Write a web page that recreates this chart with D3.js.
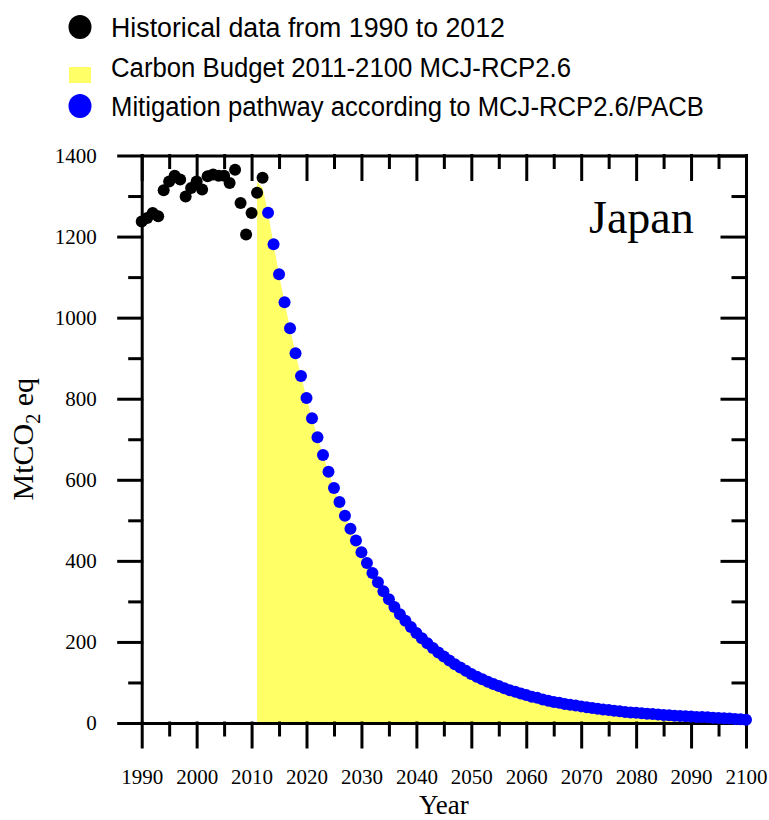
<!DOCTYPE html>
<html>
<head>
<meta charset="utf-8">
<script src="https://cdn.jsdelivr.net/npm/d3@7"></script>
<style>
body { margin: 0; background: #fff; }
</style>
</head>
<body>
<svg id="chart" width="769" height="820"></svg>
<script>
// historical emissions, MtCO2 eq
const histYears = d3.range(1990, 2013)
const histValues = [1237, 1246, 1258, 1250, 1314, 1336, 1350, 1341, 1299, 1320, 1336, 1316,
	1349, 1353, 1350, 1350, 1332, 1365, 1283, 1205, 1258, 1308, 1345]

// mitigation pathway 2013-2100
const pathYears = d3.range(2013, 2101)
const pathValues = [1259, 1181, 1107, 1038, 974, 912, 856, 802, 752, 705,
	661, 620, 580, 545, 511, 479, 450, 421, 395, 370,
	347, 325, 305, 286, 268, 252, 237, 222, 209, 197,
	185, 174, 164, 154, 145, 137, 129, 121, 114, 108,
	102, 96, 91, 86, 81, 77, 73, 69, 65, 62,
	58, 55, 52, 50, 47, 45, 43, 41, 39, 37,
	35, 33, 32, 30, 29, 27, 26, 25, 24, 23,
	22, 21, 20, 19, 18, 17, 16.5, 16, 15, 14.5,
	14, 13, 12.5, 12, 11, 10, 9, 8]

// carbon budget area 2011-2100 (first two years, then follows the pathway)
const budgetYears = [2011, 2012].concat(pathYears)
const budgetValues = [1335, 1320].concat(pathValues)

const legendLabels = [
	'Historical data from 1990 to 2012',
	'Carbon Budget 2011-2100 MCJ-RCP2.6',
	'Mitigation pathway according to MCJ-RCP2.6/PACB'
]

const xMajor = d3.range(1990, 2101, 10)
const xMinor = d3.range(1995, 2100, 10)
const yMajor = d3.range(0, 1401, 200)
const yMinor = d3.range(100, 1400, 200)

const svg = d3.select('#chart')

let x = d3.scaleLinear().domain([1990, 2100]).range([141.7, 746])
let y = d3.scaleLinear().domain([0, 1400]).range([723, 155.5])

// budget area
let area = d3.area()
	.x(d => x(d[0]))
	.y0(y(0))
	.y1(d => y(d[1]))
svg.append('path')
	.datum(budgetYears.map((yr, i) => [yr, budgetValues[i]]))
	.attr('d', area)
	.attr('fill', '#ffff66')

// axes
function styleAxis(g) {
	g.selectAll('path, line')
		.attr('stroke', '#000')
		.attr('stroke-width', 3)
		.attr('stroke-linecap', 'square')
	g.selectAll('text')
		.attr('fill', '#000')
		.style('font-family', '"Liberation Serif", "Times New Roman", serif')
		.style('font-size', '21px')
}

let axBottom = svg.append('g').attr('transform', `translate(0,${y(0)})`)
axBottom.call(d3.axisBottom(x).tickValues(xMajor).tickSize(24).tickSizeOuter(0)
	.tickPadding(22).tickFormat(d3.format('d')))
axBottom.append('g').call(d3.axisBottom(x).tickValues(xMinor).tickSize(12).tickFormat(''))
	.select('.domain').remove()
axBottom.call(styleAxis)

let axTop = svg.append('g').attr('transform', `translate(0,${y(1400)})`)
axTop.call(d3.axisTop(x).tickValues(xMajor).tickSize(-24).tickSizeOuter(0).tickFormat(''))
axTop.append('g').call(d3.axisTop(x).tickValues(xMinor).tickSize(-12).tickFormat(''))
	.select('.domain').remove()
axTop.call(styleAxis)

let axLeft = svg.append('g').attr('transform', `translate(${x(1990)},0)`)
axLeft.call(d3.axisLeft(y).tickValues(yMajor).tickSize(23).tickSizeOuter(0)
	.tickPadding(22).tickFormat(d3.format('d')))
axLeft.append('g').call(d3.axisLeft(y).tickValues(yMinor).tickSize(12).tickFormat(''))
	.select('.domain').remove()
axLeft.call(styleAxis)

let axRight = svg.append('g').attr('transform', `translate(${x(2100)},0)`)
axRight.call(d3.axisRight(y).tickValues(yMajor).tickSize(-24).tickSizeOuter(0).tickFormat(''))
axRight.append('g').call(d3.axisRight(y).tickValues(yMinor).tickSize(-13).tickFormat(''))
	.select('.domain').remove()
axRight.call(styleAxis)

// points
svg.append('g').selectAll('circle')
	.data(histYears)
	.join('circle')
	.attr('cx', d => x(d))
	.attr('cy', (d, i) => y(histValues[i]))
	.attr('r', 6)
	.attr('fill', '#000')

svg.append('g').selectAll('circle')
	.data(pathYears)
	.join('circle')
	.attr('cx', d => x(d))
	.attr('cy', (d, i) => y(pathValues[i]))
	.attr('r', 6)
	.attr('fill', '#0000ff')

// titles
svg.append('text')
	.attr('x', 589).attr('y', 233)
	.style('font-family', '"Liberation Serif", "Times New Roman", serif')
	.style('font-size', '46px')
	.text('Japan')

svg.append('text')
	.attr('x', (x(1990) + x(2100)) / 2).attr('y', 814)
	.attr('text-anchor', 'middle')
	.style('font-family', '"Liberation Serif", "Times New Roman", serif')
	.style('font-size', '27px')
	.text('Year')

let ylab = svg.append('text')
	.attr('transform', `translate(33,${(y(0) + y(1400)) / 2}) rotate(-90)`)
	.attr('text-anchor', 'middle')
	.style('font-family', '"Liberation Serif", "Times New Roman", serif')
	.style('font-size', '30px')
ylab.append('tspan').text('MtCO')
ylab.append('tspan').attr('dy', 7).style('font-size', '20px').text('2')
ylab.append('tspan').attr('dy', -7).text(' eq')

// legend
let legend = svg.append('g')
	.style('font-family', '"Liberation Sans", Arial, sans-serif')
	.style('font-size', '27px')
let rows = [36.5, 76.5, 116]
let widths = [394, 460, 593]
legendLabels.forEach((label, i) => {
	legend.append('text')
		.attr('x', 111).attr('y', rows[i])
		.attr('textLength', widths[i])
		.attr('lengthAdjust', 'spacingAndGlyphs')
		.text(label)
})
legend.append('ellipse').attr('cx', 80).attr('cy', 27).attr('rx', 11.5).attr('ry', 12).attr('fill', '#000')
legend.append('rect').attr('x', 69).attr('y', 67).attr('width', 22).attr('height', 16).attr('fill', '#ffff66')
legend.append('ellipse').attr('cx', 80).attr('cy', 106).attr('rx', 11.5).attr('ry', 12).attr('fill', '#0000ff')
</script>
</body>
</html>
